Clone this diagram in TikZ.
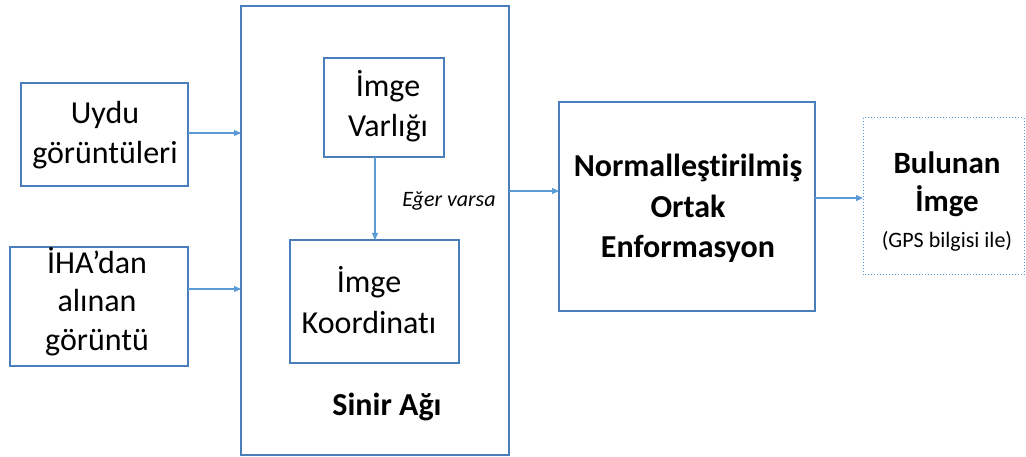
\documentclass[tikz,border=0pt]{standalone}
\usepackage{fontspec}
\setmainfont[Ligatures=NoCommon]{Carlito}
\usetikzlibrary{arrows.meta}
\definecolor{boxblue}{HTML}{4A7EBB}
\definecolor{arrblue}{HTML}{5B9BD5}
\begin{document}
\begin{tikzpicture}[x=1pt,y=-1pt,
  box/.style={draw=boxblue,line width=1.3pt},
  dotbox/.style={draw=arrblue,line width=1pt,dotted},
  conn/.style={draw=arrblue,line width=1.1pt,-{Triangle[length=7pt,width=6pt]}},
  txt/.style={font=\fontsize{32}{40}\selectfont,align=center,anchor=base,inner sep=0pt},
  btxt/.style={font=\fontsize{32}{40.5}\selectfont\bfseries,align=center,anchor=base,inner sep=0pt}]
\useasboundingbox (0,0) rectangle (1026,457);
\path[box] (21,83) rectangle (188,186);
\node[txt] (uydu) at (105,164) {Uydu\\görüntüleri};
\path[box] (10,247) rectangle (188,366);
\node[txt,font=\fontsize{32}{38.5}\selectfont] (iha) at (97,350) {İHA’dan\\alınan\\görüntü};
\path[box] (241,6) rectangle (509,455);
\path[box] (324,58) rectangle (444,157);
\node[txt] (varlik) at (388,137) {İmge\\Varlığı};
\path[box] (290,240) rectangle (459,363);
\node[txt] (koord) at (369,333) {İmge\\Koordinatı};
\node[btxt] (sinir) at (387,415) {Sinir Ağı};
\path[box] (559,102) rectangle (815,311);
\node[btxt] (norm) at (688,258) {Normalleştirilmiş\\Ortak\\Enformasyon};
\path[dotbox] (863,118) rectangle (1024,275);
\node[btxt,font=\fontsize{31}{38}\selectfont\bfseries] (bul) at (947,212) {Bulunan\\İmge};
\node[font=\fontsize{22}{26}\selectfont,anchor=base,inner sep=0pt] (gps) at (947,248) {(GPS bilgisi ile)};
\node[font=\fontsize{22}{26}\selectfont\itshape,anchor=base,inner sep=0pt] (eger) at (449,207) {Eğer varsa};
\coordinate (a1s) at (188,133); \coordinate (a1e) at (241,133);
\coordinate (a2s) at (188,289); \coordinate (a2e) at (241,289);
\coordinate (a3s) at (375,157); \coordinate (a3e) at (375,240);
\coordinate (a4s) at (509,191); \coordinate (a4e) at (559,191);
\coordinate (a5s) at (815,198); \coordinate (a5e) at (863,198);
\draw[conn] (a1s) -- (a1e);
\draw[conn] (a2s) -- (a2e);
\draw[conn] (a3s) -- (a3e);
\draw[conn] (a4s) -- (a4e);
\draw[conn] (a5s) -- (a5e);
\end{tikzpicture}
\end{document}
